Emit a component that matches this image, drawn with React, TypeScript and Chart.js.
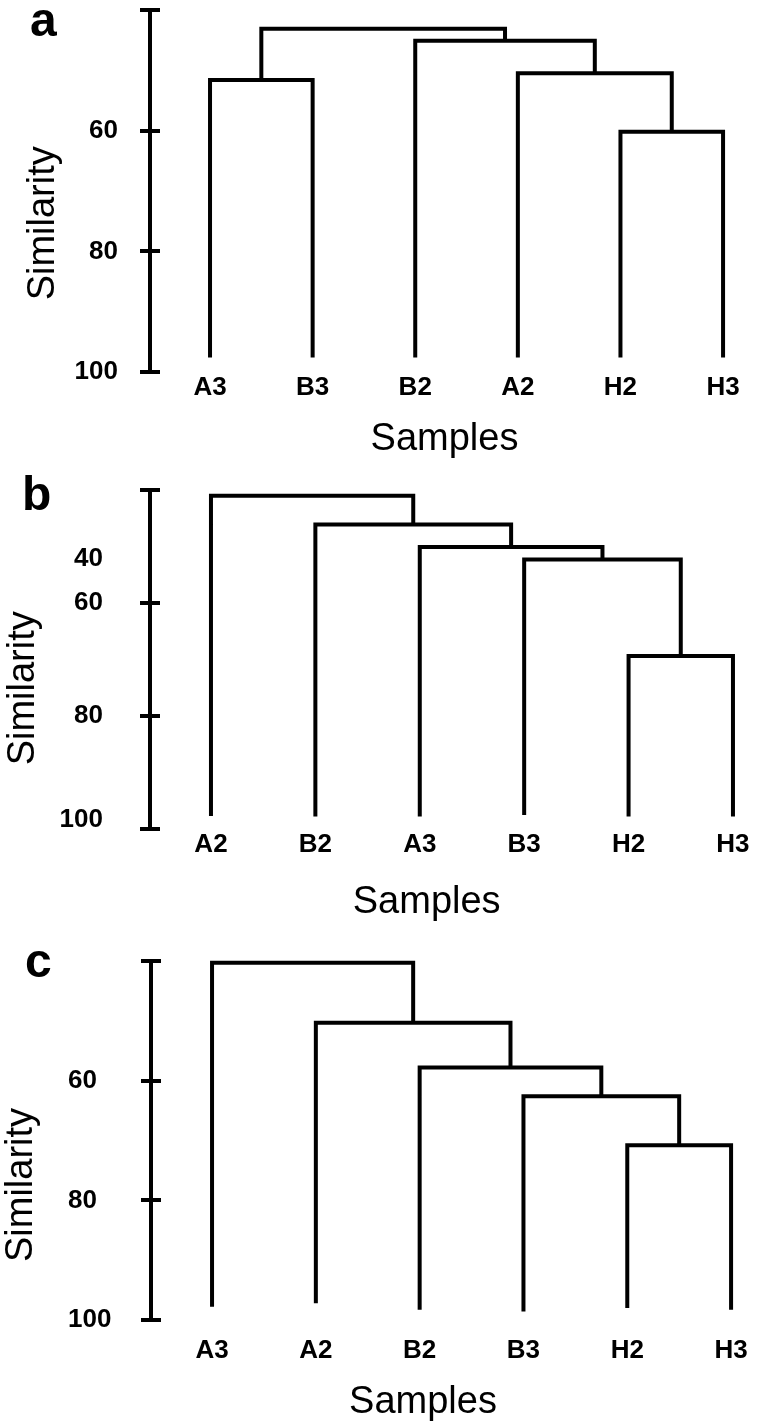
import React, { useEffect, useRef } from 'react';
import { Chart, registerables } from 'chart.js';

Chart.register(...registerables);

const FONT = "'Liberation Sans', Arial, Helvetica, sans-serif";

// ---------- Panel a ----------
const LEAVES_A = ['A3', 'B3', 'B2', 'A2', 'H2', 'H3'];
const LEAF_ENDS_A = [97.6, 97.6, 97.6, 97.6, 97.6, 97.6];
// [left id, right id, similarity]; leaves are 0..5, each merge creates id 6, 7, ...
const MERGES_A: [number, number, number][] = [
  [0, 1, 51.6],
  [4, 5, 60.2],
  [3, 7, 50.5],
  [2, 8, 45.1],
  [6, 9, 43.1],
];
const TICKS_A = [40, 60, 80, 100];
const TICK_LABELS_A = ['', '60', '80', '100'];
const TICK_MARKS_A = [true, true, true, true];

// ---------- Panel b ----------
const LEAVES_B = ['A2', 'B2', 'A3', 'B3', 'H2', 'H3'];
const LEAF_ENDS_B = [97.7, 97.8, 97.8, 97.5, 97.8, 97.8];
const MERGES_B: [number, number, number][] = [
  [4, 5, 69.4],
  [3, 6, 52.3],
  [2, 7, 50.1],
  [1, 8, 46.1],
  [0, 9, 41.0],
];
const TICKS_B = [40, 52.1, 60, 80, 98.4, 100];
const TICK_LABELS_B = ['', '40', '60', '80', '100', ''];
const TICK_MARKS_B = [true, false, true, true, false, true];

// ---------- Panel c ----------
const LEAVES_C = ['A3', 'A2', 'B2', 'B3', 'H2', 'H3'];
const LEAF_ENDS_C = [97.8, 97.2, 98.3, 98.6, 98.0, 98.3];
const MERGES_C: [number, number, number][] = [
  [4, 5, 70.8],
  [3, 6, 62.6],
  [2, 7, 57.8],
  [1, 8, 50.3],
  [0, 9, 40.3],
];
const TICKS_C = [40, 60, 80, 100];
const TICK_LABELS_C = ['', '60', '80', '100'];
const TICK_MARKS_C = [true, true, true, true];

const Y_TITLE = 'Similarity';
const X_TITLE = 'Samples';

type Layout = {
  top: number;
  height: number;
  padTop: number;
  padLeft: number;
  yAxisWidth: number;
  xAxisHeight: number;
  xMin: number;
  xMax: number;
  yTickPadding: number;
  yCross: 'near' | 'far';
  xTickPadding: number;
  letter: string;
  letterX: number;
  letterY: number;
  yTitleX: number;
  yTitleY: number;
  xTitleX: number;
  xTitleY: number;
};

type PanelData = {
  leaves: string[];
  leafEnds: number[];
  merges: [number, number, number][];
  ticks: number[];
  tickLabels: string[];
  tickMarks: boolean[];
};

const PANELS: { data: PanelData; layout: Layout }[] = [
  {
    data: { leaves: LEAVES_A, leafEnds: LEAF_ENDS_A, merges: MERGES_A, ticks: TICKS_A, tickLabels: TICK_LABELS_A, tickMarks: TICK_MARKS_A },
    layout: {
      top: 0, height: 470, padTop: 10, padLeft: 0, yAxisWidth: 150, xAxisHeight: 98,
      xMin: -0.585, xMax: 5.243, yTickPadding: 22, yCross: 'near', xTickPadding: 0,
      letter: 'a', letterX: 30, letterY: 35.5, yTitleX: 53.7, yTitleY: 223.3, xTitleX: 444.5, xTitleY: 450,
    },
  },
  {
    data: { leaves: LEAVES_B, leafEnds: LEAF_ENDS_B, merges: MERGES_B, ticks: TICKS_B, tickLabels: TICK_LABELS_B, tickMarks: TICK_MARKS_B },
    layout: {
      top: 470, height: 460, padTop: 20, padLeft: 0, yAxisWidth: 150, xAxisHeight: 101,
      xMin: -0.584, xMax: 5.144, yTickPadding: 37, yCross: 'near', xTickPadding: 0,
      letter: 'b', letterX: 22, letterY: 40, yTitleX: 33.7, yTitleY: 218.3, xTitleX: 426.7, xTitleY: 443,
    },
  },
  {
    data: { leaves: LEAVES_C, leafEnds: LEAF_ENDS_C, merges: MERGES_C, ticks: TICKS_C, tickLabels: TICK_LABELS_C, tickMarks: TICK_MARKS_C },
    layout: {
      top: 930, height: 498, padTop: 31, padLeft: 68, yAxisWidth: 83, xAxisHeight: 108,
      xMin: -0.588, xMax: 5.163, yTickPadding: 0, yCross: 'far', xTickPadding: 15,
      letter: 'c', letterX: 25, letterY: 47, yTitleX: 32, yTitleY: 255, xTitleX: 423, xTitleY: 483,
    },
  },
];

function buildSegments(leaves: string[], leafEnds: number[], merges: [number, number, number][]) {
  const pos: number[] = leaves.map((_, i) => i);
  const hts: number[] = [...leafEnds];
  return merges.map(([l, r, h]) => {
    const xl = pos[l];
    const xr = pos[r];
    const seg = [
      { x: xl, y: hts[l] },
      { x: xl, y: h },
      { x: xr, y: h },
      { x: xr, y: hts[r] },
    ];
    pos.push((xl + xr) / 2);
    hts.push(h);
    return seg;
  });
}

function Dendrogram({ data, layout }: { data: PanelData; layout: Layout }) {
  const ref = useRef<HTMLCanvasElement | null>(null);

  useEffect(() => {
    if (!ref.current) return;
    const segments = buildSegments(data.leaves, data.leafEnds, data.merges);
    const L = layout;

    const decor = {
      id: 'decor' + L.letter,
      afterDraw(chart: any) {
        const { ctx, chartArea } = chart;
        const ys = chart.scales.y;
        ctx.save();
        // inner halves of the tick caps
        ctx.strokeStyle = '#000';
        ctx.lineWidth = 4;
        ctx.lineCap = 'butt';
        data.ticks.forEach((v, i) => {
          if (!data.tickMarks[i]) return;
          const py = Math.round(ys.getPixelForValue(v) - 2) + 2;
          ctx.beginPath();
          ctx.moveTo(chartArea.left, py);
          ctx.lineTo(chartArea.left + 10, py);
          ctx.stroke();
        });
        ctx.fillStyle = '#000';
        // panel letter
        ctx.font = `bold 48px ${FONT}`;
        ctx.textAlign = 'left';
        ctx.textBaseline = 'alphabetic';
        ctx.fillText(L.letter, L.letterX, L.letterY);
        // x title
        ctx.font = `38px ${FONT}`;
        ctx.textAlign = 'center';
        ctx.fillText(X_TITLE, L.xTitleX, L.xTitleY);
        // y title
        ctx.translate(L.yTitleX, L.yTitleY);
        ctx.rotate(-Math.PI / 2);
        ctx.textAlign = 'center';
        ctx.fillText(Y_TITLE, 0, 0);
        ctx.restore();
      },
    };

    const chart = new Chart(ref.current, {
      type: 'line',
      data: {
        datasets: segments.map((seg) => ({
          data: seg,
          borderColor: '#000',
          borderWidth: 4,
          pointRadius: 0,
          pointHoverRadius: 0,
          tension: 0,
          fill: false,
          borderJoinStyle: 'miter' as const,
          borderCapStyle: 'butt' as const,
          clip: false as any,
        })),
      },
      options: {
        animation: false,
        responsive: false,
        devicePixelRatio: 1,
        events: [],
        layout: { padding: { top: L.padTop, left: L.padLeft, right: 10, bottom: 0 } },
        plugins: {
          legend: { display: false },
          tooltip: { enabled: false },
          title: { display: false },
        },
        scales: {
          x: {
            type: 'linear',
            min: L.xMin,
            max: L.xMax,
            afterBuildTicks: (s: any) => {
              s.ticks = data.leaves.map((_, i) => ({ value: i }));
            },
            afterFit: (s: any) => {
              s.height = L.xAxisHeight;
              s.paddingLeft = 0;
              s.paddingRight = 0;
              s.paddingTop = 0;
              s.paddingBottom = 0;
            },
            grid: { display: false, drawTicks: false, tickLength: 0 },
            border: { display: false },
            ticks: {
              autoSkip: false,
              maxRotation: 0,
              minRotation: 0,
              padding: L.xTickPadding,
              color: '#000',
              font: { family: FONT, size: 26, weight: 'bold' },
              callback: (_v: any, i: number) => data.leaves[i],
            },
          },
          y: {
            type: 'linear',
            reverse: true,
            min: 40,
            max: 100,
            afterBuildTicks: (s: any) => {
              s.ticks = data.ticks.map((v) => ({ value: v }));
            },
            afterFit: (s: any) => {
              s.width = L.yAxisWidth;
              s.paddingTop = 0;
              s.paddingBottom = 0;
              s.paddingLeft = 0;
              s.paddingRight = 0;
            },
            grid: {
              display: true,
              drawOnChartArea: false,
              drawTicks: true,
              tickLength: 10,
              lineWidth: 4,
              tickWidth: 4,
              tickColor: (c: any) => (data.tickMarks[c.index] ? '#000' : 'rgba(0,0,0,0)'),
            },
            border: { display: true, color: '#000', width: 4 },
            ticks: {
              autoSkip: false,
              padding: L.yTickPadding,
              crossAlign: L.yCross,
              color: '#000',
              font: { family: FONT, size: 26, weight: 'bold' },
              callback: (_v: any, i: number) => data.tickLabels[i],
            },
          },
        },
      } as any,
      plugins: [decor],
    });

    return () => chart.destroy();
  }, [data, layout]);

  return (
    <canvas
      ref={ref}
      width={758}
      height={layout.height}
      style={{ position: 'absolute', left: 0, top: layout.top, width: 758, height: layout.height, display: 'block' }}
    />
  );
}

export default function App() {
  return (
    <div style={{ position: 'absolute', left: 0, top: 0, width: 758, height: 1428, background: '#fff', overflow: 'hidden' }}>
      {PANELS.map((p) => (
        <Dendrogram key={p.layout.letter} data={p.data} layout={p.layout} />
      ))}
    </div>
  );
}
